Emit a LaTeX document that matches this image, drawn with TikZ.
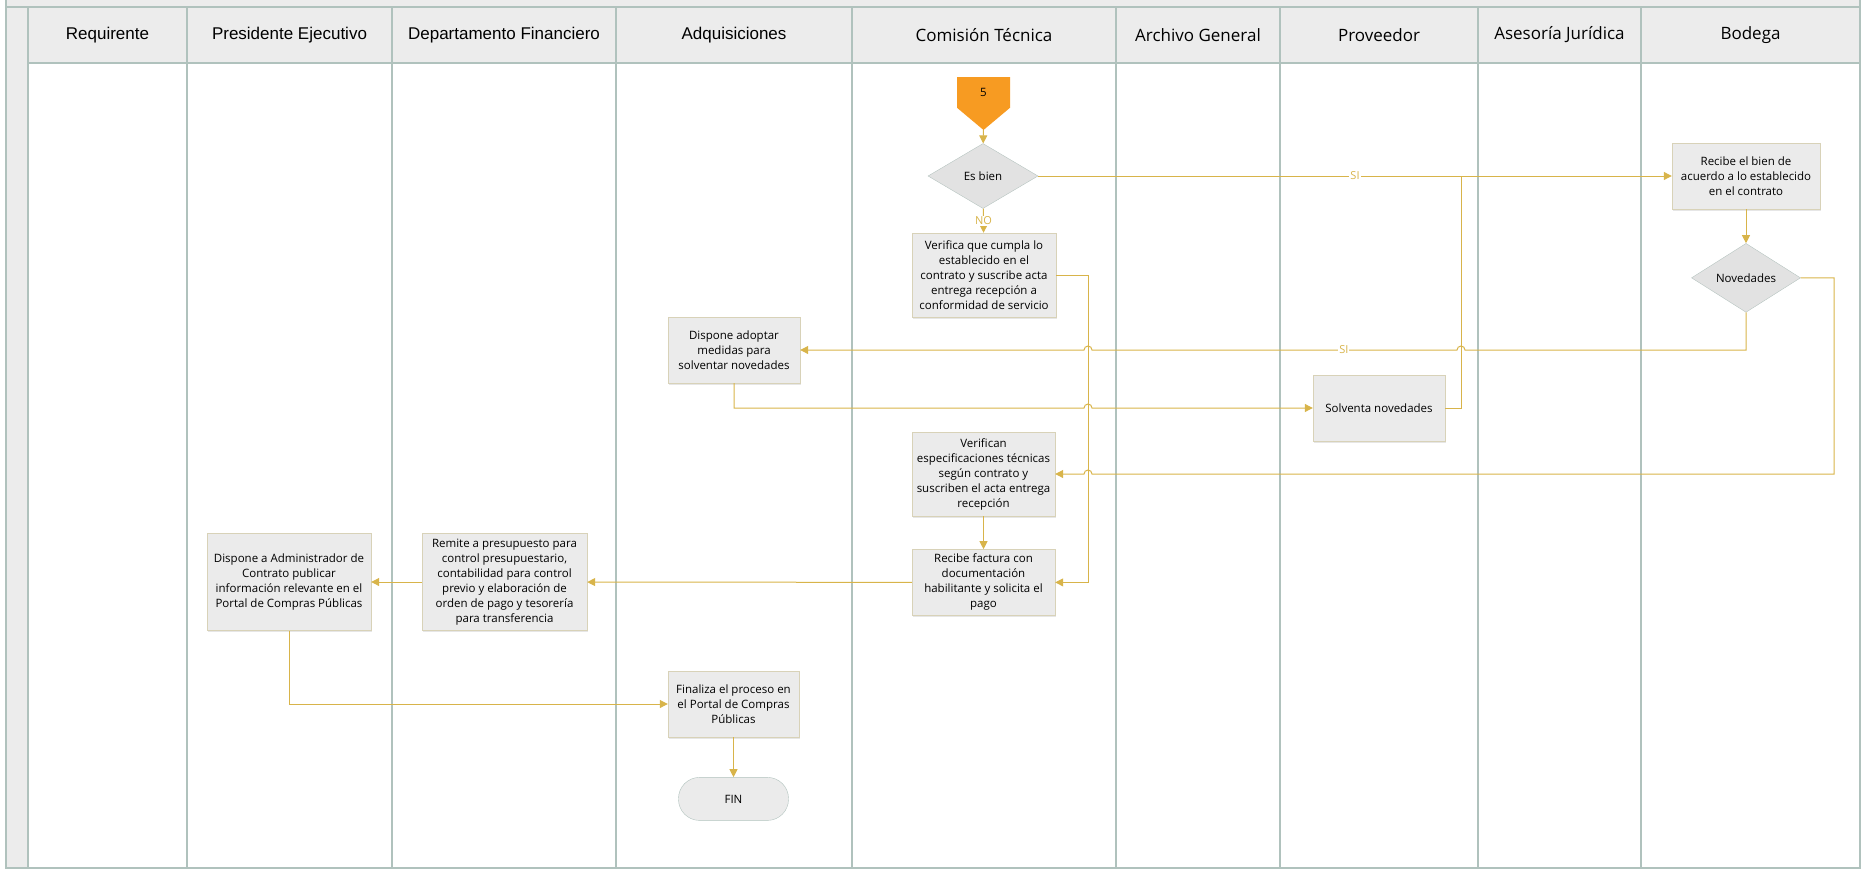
\documentclass[tikz,border=0pt]{standalone}
\usepackage{fontspec}
\setmainfont{Open Sans}
\newfontfamily\headfont{Liberation Sans}
\usetikzlibrary{arrows.meta,
                calc,
                positioning,
                shapes.geometric, % For diamond
                shapes.symbols, % For off-page connector
                shadows}
\definecolor{flowgold}{RGB}{216,180,74}
\definecolor{boxfill}{RGB}{235,235,235}
\definecolor{boxline}{RGB}{216,210,184}
\definecolor{diafill}{RGB}{226,226,226}
\definecolor{diadraw}{RGB}{182,196,192}
\definecolor{laneline}{RGB}{176,194,189}
\definecolor{lanefill}{RGB}{236,236,236}
\definecolor{connorange}{RGB}{247,155,34}

\begin{document}
\begin{tikzpicture}[x=1pt, y=-1pt]
    \tikzset
    {
        base/.style = {align = center,
                       inner sep = 2pt,
                       font = \fontsize{11.5}{15}\selectfont},
        process/.style = {base,
                          draw = boxline,
                          rectangle,
                          fill = boxfill,
                          minimum width = 132pt,
                          minimum height = 66pt,
                          drop shadow = {shadow xshift = 1pt,
                                         shadow yshift = -1.5pt,
                                         opacity = .2}},
        decision/.style = {base,
                           draw = diadraw,
                           diamond,
                           fill = diafill,
                           inner sep = 0pt,
                           minimum width = 110pt,
                           minimum height = 65pt},
        terminal/.style = {base,
                           draw = laneline,
                           rectangle,
                           rounded corners = 21pt,
                           fill = boxfill,
                           minimum width = 110pt,
                           minimum height = 43pt},
        offpage/.style = {base,
                          shape = signal,
                          signal to = south,
                          signal pointer angle = 100,
                          fill = connorange,
                          minimum width = 53pt,
                          minimum height = 35pt},
        lane/.style = {draw = laneline,
                       line width = 1.1pt},
        lanetitle/.style = {font = \fontsize{17}{19}\selectfont},
        flowline/.style = {draw = flowgold,
                           line width = 1pt},
        flow/.style = {flowline,
                       -{Triangle[length = 8pt, width = 8pt]}},
        guard/.style = {fill = white,
                        inner sep = 1pt,
                        text = flowgold,
                        font = \fontsize{11}{12}\selectfont}
    };

    \useasboundingbox (0,0) rectangle (1864,870);

    % Pool and lanes
    \fill[lanefill] (6,0) rectangle (1860,63);
    \fill[lanefill] (6,0) rectangle (28,868);
    \draw[lane] (6,0) -- (6,868) -- (1860,868) -- (1860,0);
    \draw[lane] (6,7) -- (1860,7);
    \draw[lane] (28,63) -- (1860,63);
    \foreach \x in {28,187,392,616,852,1116,1280,1478,1641}
        \draw[lane] (\x,7) -- (\x,868);

    \foreach \x/\name [count=\i] in {107.5/Requirente,
                                     289.5/Presidente Ejecutivo,
                                     504/Departamento Financiero,
                                     734/Adquisiciones}
        \node[lanetitle, font=\headfont\fontsize{17}{19}\selectfont] (lane-\i) at (\x,35) {\name};
    \foreach \x/\name [count=\i from 5] in {984/Comisión Técnica,
                                           1198/Archivo General,
                                           1379/Proveedor,
                                           1559.5/Asesoría Jurídica,
                                           1750.5/Bodega}
        \node[lanetitle] (lane-\i) at (\x,35) {\name};

    % Comisión Técnica
    \node[offpage, anchor=north] (conn5) at (983.5,77) {5};
    \node[decision] (esbien) at (983,176) {Es bien};
    \node[process, minimum width=144pt, minimum height=84pt] (verifica) at (984,275)
        {Verifica que cumpla lo\\establecido en el\\contrato y suscribe acta\\entrega recepción a\\conformidad de servicio};
    \node[process, minimum width=143pt, minimum height=84pt] (verifican) at (983.5,474)
        {Verifican\\especificaciones técnicas\\según contrato y\\suscriben el acta entrega\\recepción};
    \node[process, minimum width=143pt] (factura) [below=33pt of verifican]
        {Recibe factura con\\documentación\\habilitante y solicita el\\pago};

    % Bodega
    \node[process, minimum width=148pt] (recibe) at (1746,176)
        {Recibe el bien de\\acuerdo a lo establecido\\en el contrato};
    \node[decision, minimum width=109pt] (novedades) [below=34pt of recibe] {Novedades};

    % Proveedor
    \node[process] (solventa) at (1379,408) {Solventa novedades};

    % Adquisiciones
    \node[process] (adoptar) at (734,350) {Dispone adoptar\\medidas para\\solventar novedades};
    \node[process, minimum width=131pt] (finaliza) at (733.5,704)
        {Finaliza el proceso en\\el Portal de Compras\\Públicas};
    \node[terminal] (fin) [below=40pt of finaliza] {FIN};

    % Departamento Financiero
    \node[process, minimum width=165pt, minimum height=97pt] (remite) at (504.5,582)
        {Remite a presupuesto para\\control presupuestario,\\contabilidad para control\\previo y elaboración de\\orden de pago y tesorería\\para transferencia};

    % Presidente Ejecutivo
    \node[process, minimum width=164pt, minimum height=97pt] (admin) at (289,582)
        {Dispone a Administrador de\\Contrato publicar\\información relevante en el\\Portal de Compras Públicas};

    % Jog lines
    \coordinate (vjog) at (1088,0);
    \coordinate (sjog) at (1461,0);
    \coordinate (rjog) at (1834,0);

    % Arrows
    \draw[flow] (conn5) -- (esbien);
    \draw[flow] (esbien) -- node[guard] {NO} (verifica);
    \draw[flow] (esbien.east) -- node[guard] {SI} (recibe.west);
    \draw[flow] (verifica.east) -| (vjog |- factura.east) -- (factura.east);
    \draw[flow] (recibe) -- (novedades);
    \draw[flow] (novedades.south) |- ([xshift=4pt]sjog |- adoptar.east)
        arc[start angle=0, end angle=180, radius=4pt]
        -- node[guard, pos=.31] {SI} ([xshift=4pt]vjog |- adoptar.east)
        arc[start angle=0, end angle=180, radius=4pt]
        -- (adoptar.east);
    \draw[flow] (novedades.east) -| (rjog |- verifican.east)
        -- ([xshift=4pt]vjog |- verifican.east)
        arc[start angle=0, end angle=180, radius=4pt]
        -- (verifican.east);
    \draw[flow] (adoptar.south) |- ([xshift=-4pt]vjog |- solventa.west)
        arc[start angle=180, end angle=0, radius=4pt]
        -- (solventa.west);
    \draw[flowline] (solventa.east) -| (sjog |- recibe.west);
    \draw[flow] (verifican) -- (factura);
    \draw[flow] (factura) -- (remite);
    \draw[flow] (remite) -- (admin);
    \draw[flow] (admin.south) |- (finaliza.west);
    \draw[flow] (finaliza) -- (fin);

\end{tikzpicture}
\end{document}
